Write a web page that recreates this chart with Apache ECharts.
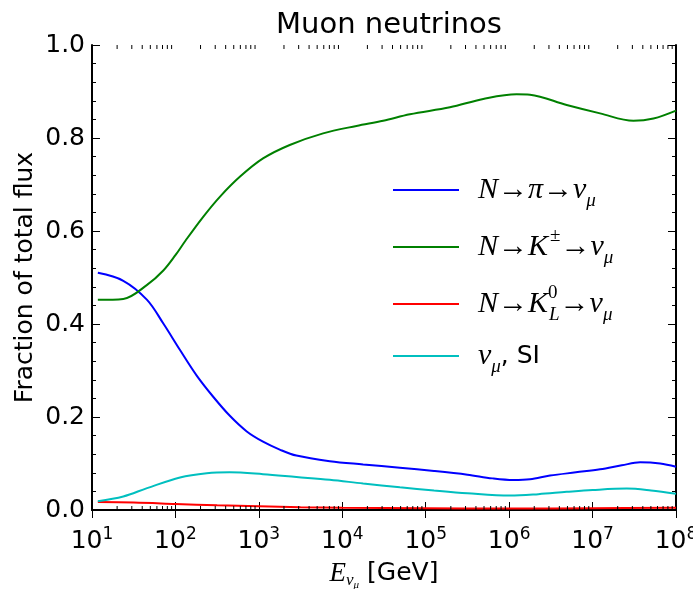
<!DOCTYPE html>
<html>
<head>
<meta charset="utf-8">
<title>Muon neutrinos</title>
<script src="https://cdn.jsdelivr.net/npm/echarts@6/dist/echarts.min.js"></script>
<style>
    html, body { margin: 0; padding: 0; background: #ffffff; }
    #chart { width: 693px; height: 589px; }
</style>
</head>
<body>
<div id="chart"></div>
<script>
// log10(E / GeV), one array per curve
const piLogE = [1.07, 1.375, 1.66, 1.855, 2.055, 2.255, 2.455, 2.655, 2.855, 3.05, 3.25, 3.45, 3.85, 4.25, 4.69, 5.1, 5.5, 5.8, 6.05, 6.25, 6.49, 6.8, 7.09, 7.35, 7.57, 7.81, 8.0];
const piFrac = [0.510, 0.493, 0.452, 0.401, 0.344, 0.289, 0.243, 0.202, 0.169, 0.147, 0.130, 0.117, 0.105, 0.098, 0.091, 0.084, 0.076, 0.068, 0.0645, 0.066, 0.074, 0.081, 0.0875, 0.096, 0.1025, 0.100, 0.093];

const kpmLogE = [1.07, 1.375, 1.66, 1.855, 2.0, 2.12, 2.335, 2.535, 2.775, 3.05, 3.37, 3.77, 4.17, 4.49, 4.81, 5.29, 5.69, 6.09, 6.25, 6.69, 7.09, 7.49, 7.73, 8.0];
const kpmFrac = [0.452, 0.454, 0.484, 0.515, 0.548, 0.579, 0.631, 0.674, 0.717, 0.756, 0.785, 0.810, 0.826, 0.837, 0.851, 0.866, 0.884, 0.894, 0.893, 0.871, 0.853, 0.837, 0.842, 0.859];

const k0LogE = [1.07, 1.5, 2.0, 2.5, 3.0, 3.5, 4.0, 5.0, 6.0, 7.0, 8.0];
const k0Frac = [0.017, 0.016, 0.013, 0.010, 0.008, 0.006, 0.005, 0.004, 0.003, 0.004, 0.005];

const siLogE = [1.07, 1.375, 1.66, 2.055, 2.375, 2.65, 3.05, 3.45, 3.85, 4.25, 4.69, 5.1, 5.5, 6.01, 6.35, 6.69, 7.0, 7.41, 7.7, 8.0];
const siFrac = [0.019, 0.029, 0.047, 0.070, 0.079, 0.081, 0.077, 0.071, 0.065, 0.057, 0.049, 0.042, 0.036, 0.031, 0.034, 0.039, 0.043, 0.046, 0.042, 0.035];

// axis tick labels
const xDecades = [1, 2, 3, 4, 5, 6, 7, 8];
const yTicks = ['0.0', '0.2', '0.4', '0.6', '0.8', '1.0'];

const SANS = 'DejaVu Sans';
const SERIF = 'Liberation Serif';

/**
 * Pair log-energy array with fractions for the log axis
 */
function toPoints(logE, frac) {
    return logE.map((l, i) => [Math.pow(10, l), frac[i]]);
}

/**
 * Minor tick positions 2..9 x 10^n on the log axis
 */
function minorTickValues() {
    const out = [];
    for (let n = xDecades[0]; n < xDecades[xDecades.length - 1]; n++) {
        for (let k = 2; k <= 9; k++) out.push([k * Math.pow(10, n)]);
    }
    return out;
}

// legend labels written as rich text (sub / superscripts)
const legendText = {
    pi: '{m|N}{a|→}{m|π}{a|→}{m|ν}{sub|μ}',
    kpm: '{m|N}{a|→}{m|K}{sup|±}{a|→}{m|ν}{sub|μ}',
    k0: '{m|N}{a|→}{m|K}{supw|0}{sub|L}{a|→}{m|ν}{sub|μ}',
    si: '{m|ν}{sub|μ}{s|, SI}'
};

const mathRich = {
    m: { fontFamily: SERIF, fontStyle: 'italic', fontSize: 30, lineHeight: 40, color: '#000' },
    a: { fontFamily: SERIF, fontSize: 30, lineHeight: 40, color: '#000' },
    sub: { fontFamily: SERIF, fontStyle: 'italic', fontSize: 19, verticalAlign: 'bottom', color: '#000' },
    sup: { fontFamily: SERIF, fontSize: 19, verticalAlign: 'top', padding: [0, 0, 0, 2], color: '#000' },
    supw: { fontFamily: SERIF, fontSize: 19, verticalAlign: 'top', width: 1, color: '#000' },
    s: { fontFamily: SANS, fontSize: 25, lineHeight: 40, color: '#000' }
};

const chart = echarts.init(document.getElementById('chart'), null, { renderer: 'canvas' });

const frameAxis = {
    axisLine: { show: true, lineStyle: { color: '#000', width: 2 } },
    splitLine: { show: false }
};

const option = {
    backgroundColor: '#ffffff',
    animation: false,
    title: {
        text: 'Muon neutrinos',
        left: 384,
        textAlign: 'center',
        top: 6,
        textStyle: { fontFamily: SANS, fontSize: 29, fontWeight: 'normal', color: '#000' }
    },
    grid: { left: 92, right: 17, top: 45, bottom: 79, outerBoundsMode: 'none' },
    legend: {
        orient: 'vertical',
        left: 388,
        top: 170,
        data: ['pi', 'kpm', 'k0', 'si'],
        icon: 'rect',
        itemWidth: 66,
        itemHeight: 2,
        itemGap: 17,
        textStyle: { padding: [0, 0, 0, 14], rich: mathRich },
        formatter: name => legendText[name]
    },
    xAxis: [
        {
            type: 'log',
            logBase: 10,
            min: 10,
            max: 1e8,
            name: '{e|E}{nu|ν}{mu|μ}{g| [GeV]}',
            nameLocation: 'middle',
            nameGap: 46,
            nameTextStyle: {
                rich: {
                    e: { fontFamily: SERIF, fontStyle: 'italic', fontSize: 27, color: '#000' },
                    nu: { fontFamily: SERIF, fontStyle: 'italic', fontSize: 17, padding: [14, 0, 0, 0], color: '#000' },
                    mu: { fontFamily: SERIF, fontStyle: 'italic', fontSize: 11, padding: [24, 0, 0, 0], color: '#000' },
                    g: { fontFamily: SANS, fontSize: 25, color: '#000' }
                }
            },
            axisTick: { inside: true, length: 8, lineStyle: { color: '#000', width: 1 } },
            axisLabel: {
                margin: 16,
                formatter: v => '{b|10}{p|' + Math.round(Math.log10(v)) + '}',
                rich: {
                    b: { fontFamily: SANS, fontSize: 25, color: '#000' },
                    p: { fontFamily: SANS, fontSize: 17, verticalAlign: 'top', padding: [0, 0, 14, 0], color: '#000' }
                }
            },
            ...frameAxis
        },
        {
            type: 'log',
            logBase: 10,
            min: 10,
            max: 1e8,
            position: 'top',
            axisTick: { inside: true, length: 8, lineStyle: { color: '#000', width: 1 } },
            axisLabel: { show: false },
            ...frameAxis
        }
    ],
    yAxis: [
        {
            type: 'value',
            min: 0,
            max: 1,
            interval: 0.2,
            name: 'Fraction of total flux',
            nameLocation: 'middle',
            nameGap: 54,
            nameMoveOverlap: false,
            nameTextStyle: { fontFamily: SANS, fontSize: 25, color: '#000' },
            axisTick: { inside: true, length: 8, lineStyle: { color: '#000', width: 1 } },
            minorTick: { show: true, splitNumber: 5, length: 4, lineStyle: { color: '#000', width: 1 } },
            axisLabel: {
                margin: 7,
                fontFamily: SANS,
                fontSize: 25,
                color: '#000',
                formatter: v => yTicks[Math.round(v / 0.2)]
            },
            ...frameAxis
        },
        {
            type: 'value',
            min: 0,
            max: 1,
            interval: 0.2,
            position: 'right',
            axisTick: { inside: true, length: 8, lineStyle: { color: '#000', width: 1 } },
            minorTick: { show: true, splitNumber: 5, length: 4, lineStyle: { color: '#000', width: 1 } },
            axisLabel: { show: false },
            ...frameAxis
        }
    ],
    series: [
        {
            name: 'pi', type: 'line', data: toPoints(piLogE, piFrac),
            symbol: 'none', smooth: 0.35, z: 3,
            lineStyle: { width: 2, color: '#0000ff' }, itemStyle: { color: '#0000ff' }
        },
        {
            name: 'kpm', type: 'line', data: toPoints(kpmLogE, kpmFrac),
            symbol: 'none', smooth: 0.35, z: 3,
            lineStyle: { width: 2, color: '#008000' }, itemStyle: { color: '#008000' }
        },
        {
            name: 'k0', type: 'line', data: toPoints(k0LogE, k0Frac),
            symbol: 'none', smooth: 0.35, z: 3,
            lineStyle: { width: 2, color: '#ff0000' }, itemStyle: { color: '#ff0000' }
        },
        {
            name: 'si', type: 'line', data: toPoints(siLogE, siFrac),
            symbol: 'none', smooth: 0.35, z: 3,
            lineStyle: { width: 2, color: '#00bfbf' }, itemStyle: { color: '#00bfbf' }
        },
        {
            // log minor ticks on bottom and top edges
            name: 'minor', type: 'custom', data: minorTickValues(),
            encode: { x: 0 }, silent: true, z: 5,
            renderItem: (params, api) => {
                const x = api.value(0);
                const b = api.coord([x, 0]);
                const t = api.coord([x, 1]);
                const style = { stroke: '#000', lineWidth: 1 };
                return {
                    type: 'group',
                    children: [
                        { type: 'line', shape: { x1: b[0], y1: b[1], x2: b[0], y2: b[1] - 4 }, style },
                        { type: 'line', shape: { x1: t[0], y1: t[1], x2: t[0], y2: t[1] + 4 }, style }
                    ]
                };
            }
        }
    ]
};

chart.setOption(option);
</script>
</body>
</html>
